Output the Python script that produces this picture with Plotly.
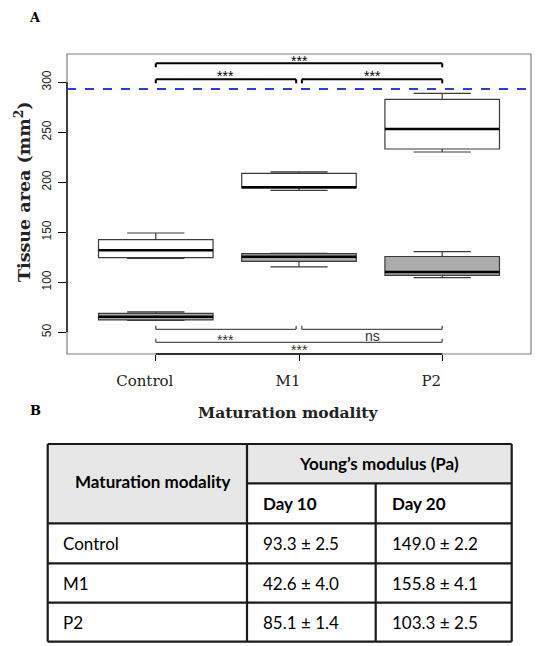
import plotly.graph_objects as go

W, H = 542, 646

# ---------------- data ----------------
categories = ["Control", "M1", "P2"]
cat_pos = [1, 2, 3]

# Day 10 (grey boxes): lower whisker, q1, median, q3, upper whisker
d10_low = [62.0, 115.5, 104.6]
d10_q1 = [62.5, 121.0, 107.0]
d10_med = [65.5, 125.6, 110.3]
d10_q3 = [69.0, 128.6, 125.8]
d10_high = [70.4, 129.0, 130.6]

# Day 20 (white boxes)
d20_low = [124.0, 192.0, 230.3]
d20_q1 = [124.6, 194.3, 233.3]
d20_med = [132.0, 195.0, 253.3]
d20_q3 = [142.6, 209.0, 283.0]
d20_high = [149.3, 210.4, 289.0]

threshold = 293.3
y_ticks = [50, 100, 150, 200, 250, 300]

# significance brackets: (from, to, level y, label, label y)
top_brackets = [(1, 3, 319.0, "***", 324.0), (1, 1.98, 303.0, "***", 309.6),
                (2.02, 3, 303.0, "***", 309.6)]
bottom_brackets = [(1, 1.98, 53.0, "***", 45.6), (2.02, 3, 53.0, "ns", 46.3),
                   (1, 3, 40.0, "***", 35.0)]

table_header = ["Maturation modality", "Young\u2019s modulus (Pa)", "Day 10", "Day 20"]
table_rows = ["Control", "M1", "P2"]
table_day10 = ["93.3 \u00b1 2.5", "42.6 \u00b1 4.0", "85.1 \u00b1 1.4"]
table_day20 = ["149.0 \u00b1 2.2", "155.8 \u00b1 4.1", "103.3 \u00b1 2.5"]

# ---------------- layout helpers ----------------
def px(x):
    return x / W

def py(y):
    return 1 - y / H

PL, PR, PT, PB = 67, 531, 54, 354
XR = [0.38, 3.62]
YR = [28.3, 328.3]

fig = go.Figure()

box_w = 0.8
for (low, q1, med, q3, high, fill) in [
    (d20_low, d20_q1, d20_med, d20_q3, d20_high, "white"),
    (d10_low, d10_q1, d10_med, d10_q3, d10_high, "#acacac"),
]:
    fig.add_trace(go.Box(
        x=cat_pos, q1=q1, median=med, q3=q3, lowerfence=low, upperfence=high,
        width=box_w, whiskerwidth=0.5, fillcolor=fill,
        line=dict(color="#3a3a3a", width=1.2), boxpoints=False,
        showlegend=False, hoverinfo="skip",
    ))
    for xi, m in zip(cat_pos, med):
        fig.add_trace(go.Scatter(
            x=[xi - box_w / 2, xi + box_w / 2], y=[m, m], mode="lines",
            line=dict(color="black", width=2.6), showlegend=False, hoverinfo="skip",
        ))

shapes = []
shapes.append(dict(type="rect", xref="paper", yref="paper",
                   x0=px(PL), x1=px(PR), y0=py(PB), y1=py(PT),
                   line=dict(color="#808080", width=1.2)))
shapes.append(dict(type="line", xref="x", yref="paper", x0=cat_pos[0], x1=cat_pos[-1],
                   y0=py(PB), y1=py(PB), line=dict(color="black", width=1.5)))
shapes.append(dict(type="line", xref="paper", yref="y", x0=px(PL), x1=px(PL),
                   y0=y_ticks[0], y1=y_ticks[-1], line=dict(color="black", width=1.3)))
shapes.append(dict(type="line", xref="paper", yref="y", x0=px(PL), x1=px(PR),
                   y0=threshold, y1=threshold,
                   line=dict(color="#2c3ddb", width=1.8, dash="dash")))

annotations = []
STAR_SHIFT = -3  # asterisks sit high in the glyph box
for (a, b, y, lab, ly) in top_brackets:
    for seg in [(a, y, b, y), (a, y, a, y - 4), (b, y, b, y - 4)]:
        shapes.append(dict(type="line", xref="x", yref="y", x0=seg[0], y0=seg[1],
                           x1=seg[2], y1=seg[3], line=dict(color="black", width=2)))
    annotations.append(dict(x=(a + b) / 2, y=ly, xref="x", yref="y", text=lab,
                            showarrow=False, xanchor="center", yanchor="middle",
                            yshift=STAR_SHIFT,
                            font=dict(family="Liberation Sans", size=14, color="black")))
for (a, b, y, lab, ly) in bottom_brackets:
    for seg in [(a, y, b, y), (a, y, a, y + 3.5), (b, y, b, y + 3.5)]:
        shapes.append(dict(type="line", xref="x", yref="y", x0=seg[0], y0=seg[1],
                           x1=seg[2], y1=seg[3], line=dict(color="#505050", width=1.3)))
    annotations.append(dict(x=(a + b) / 2, y=ly, xref="x", yref="y", text=lab,
                            showarrow=False, xanchor="center", yanchor="middle",
                            yshift=STAR_SHIFT if lab.startswith("*") else 0,
                            font=dict(family="Liberation Sans", size=14, color="#333")))

serif = "DejaVu Serif"
def paper_text(x, y, text, size, family=serif, angle=0, color="#222"):
    annotations.append(dict(x=px(x), y=py(y), xref="paper", yref="paper", text=text,
                            textangle=angle, showarrow=False, xanchor="center",
                            yanchor="middle", font=dict(family=family, size=size, color=color)))

paper_text(22, 192, "<b>Tissue area (mm<sup>2</sup>)</b>", 17.5, angle=-90)
paper_text(288, 412, "<b>Maturation modality</b>", 15.5)
paper_text(35, 18, "<b>A</b>", 13, color="black")
paper_text(35, 410, "<b>B</b>", 13, color="black")

# ---------------- table ----------------
TL, C1, C2, TR = 47.7, 247, 375.7, 511.7
R0, R1, R2, R3, R4, R5 = 444, 483.3, 523.3, 563.3, 602.7, 641.7
hdr_fill = "#e7e7e7"
shapes.append(dict(type="rect", xref="paper", yref="paper", x0=px(TL), x1=px(C1),
                   y0=py(R2), y1=py(R0), fillcolor=hdr_fill, line=dict(width=0), layer="below"))
shapes.append(dict(type="rect", xref="paper", yref="paper", x0=px(C1), x1=px(TR),
                   y0=py(R1), y1=py(R0), fillcolor=hdr_fill, line=dict(width=0), layer="below"))
lw = 2.2
for yy in [R0, R2, R3, R4, R5]:
    shapes.append(dict(type="line", xref="paper", yref="paper", x0=px(TL), x1=px(TR),
                       y0=py(yy), y1=py(yy), line=dict(color="#1a1a1a", width=lw)))
shapes.append(dict(type="line", xref="paper", yref="paper", x0=px(C1), x1=px(TR),
                   y0=py(R1), y1=py(R1), line=dict(color="#1a1a1a", width=lw)))
for xx in [TL, C1, TR]:
    shapes.append(dict(type="line", xref="paper", yref="paper", x0=px(xx), x1=px(xx),
                       y0=py(R5), y1=py(R0), line=dict(color="#1a1a1a", width=lw)))
shapes.append(dict(type="line", xref="paper", yref="paper", x0=px(C2), x1=px(C2),
                   y0=py(R5), y1=py(R1), line=dict(color="#1a1a1a", width=lw)))

tfont = "Lato"
def tcell(x, y, text, bold=False, anchor="left"):
    annotations.append(dict(x=px(x), y=py(y), xref="paper", yref="paper",
                            text=f"<b>{text}</b>" if bold else text, showarrow=False,
                            xanchor=anchor, yanchor="middle",
                            font=dict(family=tfont, size=17, color="black")))

tcell(153, (R0 + R2) / 2 - 2, table_header[0], bold=True, anchor="center")
tcell((C1 + TR) / 2, (R0 + R1) / 2, table_header[1], bold=True, anchor="center")
tcell(C1 + 14, (R1 + R2) / 2, table_header[2], bold=True)
tcell(C2 + 14, (R1 + R2) / 2, table_header[3], bold=True)
row_edges = [R2, R3, R4, R5]
for i in range(3):
    yc = (row_edges[i] + row_edges[i + 1]) / 2
    tcell(TL + 13, yc, table_rows[i])
    tcell(C1 + 14, yc, table_day10[i])
    tcell(C2 + 14, yc, table_day20[i])

fig.update_layout(
    width=W, height=H, margin=dict(l=0, r=0, t=0, b=0),
    paper_bgcolor="white", plot_bgcolor="white",
    boxmode="overlay", showlegend=False,
    shapes=shapes, annotations=annotations,
    xaxis=dict(domain=[px(PL), px(PR)], range=XR, tickmode="array", tickvals=cat_pos,
               ticktext=categories, ticks="outside", ticklen=6, tickcolor="black",
               tickwidth=1.3, showgrid=False, zeroline=False, showline=False,
               ticklabelshift=-11, ticklabelstandoff=7,
               tickfont=dict(family=serif, size=15, color="#222")),
    yaxis=dict(domain=[py(PB), py(PT)], range=YR, tickmode="array", tickvals=y_ticks,
               ticks="outside", ticklen=8, tickcolor="black", tickwidth=1.2,
               showgrid=False, zeroline=False, showline=False, tickangle=-90,
               ticklabelstandoff=2,
               tickfont=dict(family="Liberation Sans", size=12, color="#222")),
)

fig.write_html("out.html")
